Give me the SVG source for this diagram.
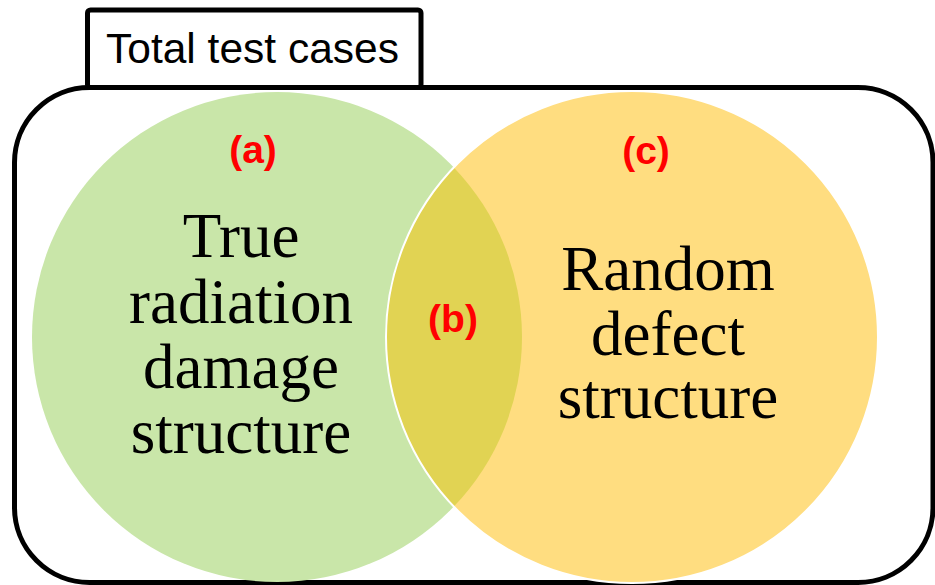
<svg xmlns="http://www.w3.org/2000/svg" width="935" height="585" viewBox="0 0 935 585">
<style>
.frame{fill:none;stroke:#000;stroke-width:5}
.lbl{font-family:"Liberation Sans",Arial,sans-serif;font-weight:bold;font-size:39px;fill:#FF0000;text-anchor:middle}
.big{font-family:"Liberation Serif","Times New Roman",serif;font-size:63px;fill:#000;text-anchor:middle}
.title{font-family:"Liberation Sans",Arial,sans-serif;font-size:42.5px;fill:#000}
</style>
<rect width="935" height="585" fill="#fff"/>
<g id="universe">
<rect class="frame" x="14.5" y="87.5" width="918.5" height="495" rx="75" ry="75"/>
</g>
<g id="title">
<rect class="frame" x="87.5" y="10" width="333.5" height="77.5" rx="3" ry="3" fill="#fff"/>
<text class="title" x="106" y="63">Total test cases</text>
</g>
<g id="set-a">
<circle cx="277" cy="337" r="245" fill="#C9E6A9"/>
</g>
<g id="set-c">
<circle cx="632" cy="337" r="246" fill="#FFDD80"/>
</g>
<g id="overlap-b">
<path d="M453.8 167.4 A245 245 0 0 1 453.8 506.6 A246 246 0 0 1 453.8 167.4 Z" fill="#E1D353"/>
<circle cx="632" cy="337" r="246" fill="none" stroke="#fff" stroke-width="2"/>
</g>
<g id="texts">
<text class="lbl" x="253" y="163">(a)</text>
<text class="lbl" x="453" y="332">(b)</text>
<text class="lbl" x="646" y="164">(c)</text>
<text class="big" x="241" y="257">True</text>
<text class="big" x="241" y="323">radiation</text>
<text class="big" x="241" y="388">damage</text>
<text class="big" x="241" y="453">structure</text>
<text class="big" x="668" y="290">Random</text>
<text class="big" x="668" y="355">defect</text>
<text class="big" x="668" y="418">structure</text>
</g>
</svg>
